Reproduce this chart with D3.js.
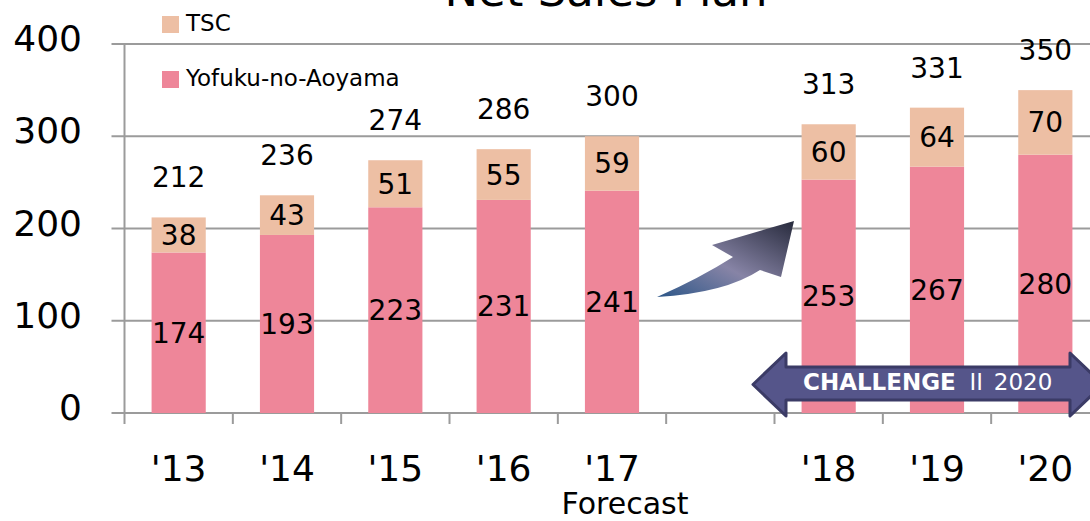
<!DOCTYPE html>
<html>
<head>
<meta charset="utf-8">
<script src="https://cdnjs.cloudflare.com/ajax/libs/d3/7.8.5/d3.min.js"></script>
<style>
    body { margin: 0; background: #fff; }
    text { font-family: Verdana, "DejaVu Sans", sans-serif; fill: #000; }
</style>
</head>
<body>
<div id="chart"></div>
<script>

// data (the empty slot is the gap between actual years and the plan)
let years = ["'13", "'14", "'15", "'16", "'17", "", "'18", "'19", "'20"];
let aoyama = [174, 193, 223, 231, 241, null, 253, 267, 280];
let tsc = [38, 43, 51, 55, 59, null, 60, 64, 70];
let totals = [212, 236, 274, 286, 300, null, 313, 331, 350];
let yTicks = [0, 100, 200, 300, 400];
let seriesNames = ["TSC", "Yofuku-no-Aoyama"];

let pink = "#EE8699";
let peach = "#EDBFA4";
let grid = "#9b9b9b";

let width = 1090, height = 521;
let margin = {top: 44, left: 124.5, bottom: 108};
let plotRight = 1099.5;

let svg = d3.select("#chart").append("svg")
    .attr("width", width)
    .attr("height", height);

let x = d3.scaleBand()
    .domain(d3.range(years.length))
    .range([margin.left, plotRight])
    .paddingInner(0.5)
    .paddingOuter(0.25);

let y = d3.scaleLinear()
    .domain([0, 400])
    .range([height - margin.bottom, margin.top]);

let step = x.step();
let bandStart = i => margin.left + i * step;

// gridlines
svg.selectAll(".grid")
    .data(yTicks)
    .enter()
    .append("line")
    .attr("x1", margin.left - 13)
    .attr("x2", plotRight)
    .attr("y1", d => y(d))
    .attr("y2", d => y(d))
    .attr("stroke", grid)
    .attr("stroke-width", 2);

// y axis line
svg.append("line")
    .attr("x1", margin.left).attr("x2", margin.left)
    .attr("y1", y(400)).attr("y2", y(0))
    .attr("stroke", grid).attr("stroke-width", 2);

// bottom ticks at category borders
svg.selectAll(".xtick")
    .data(d3.range(years.length + 1))
    .enter()
    .append("line")
    .attr("x1", d => bandStart(d))
    .attr("x2", d => bandStart(d))
    .attr("y1", y(0))
    .attr("y2", y(0) + 11)
    .attr("stroke", grid)
    .attr("stroke-width", 2);

// y labels
svg.selectAll(".ylabel")
    .data(yTicks)
    .enter()
    .append("text")
    .attr("x", 82)
    .attr("y", d => y(d) + 7)
    .attr("text-anchor", "end")
    .style("font-size", "36px")
    .text(d => d);

// x labels
svg.selectAll(".xlabel")
    .data(years)
    .enter()
    .append("text")
    .attr("x", (d, i) => x(i) + x.bandwidth() / 2)
    .attr("y", 481)
    .attr("text-anchor", "middle")
    .style("font-size", "36px")
    .text(d => d);

svg.append("text")
    .attr("x", 625)
    .attr("y", 514)
    .attr("text-anchor", "middle")
    .style("font-size", "30px")
    .text("Forecast");

// title (cut off at top like the slide)
svg.append("text")
    .attr("x", 606)
    .attr("y", 6)
    .attr("text-anchor", "middle")
    .style("font-size", "45px")
    .text("Net Sales Plan");

// bars
let rows = years.map((d, i) => ({i: i, a: aoyama[i], t: tsc[i], total: totals[i]}))
    .filter(d => d.a !== null);

svg.selectAll(".barA")
    .data(rows)
    .enter()
    .append("rect")
    .attr("x", d => x(d.i))
    .attr("width", x.bandwidth())
    .attr("y", d => y(d.a))
    .attr("height", d => y(0) - y(d.a))
    .attr("fill", pink);

svg.selectAll(".barT")
    .data(rows)
    .enter()
    .append("rect")
    .attr("x", d => x(d.i))
    .attr("width", x.bandwidth())
    .attr("y", d => y(d.a + d.t))
    .attr("height", d => y(d.a) - y(d.a + d.t))
    .attr("fill", peach);

// value labels
let cx = d => x(d.i) + x.bandwidth() / 2;

svg.selectAll(".labA")
    .data(rows)
    .enter()
    .append("text")
    .attr("x", cx)
    .attr("y", d => (y(0) + y(d.a)) / 2 + 10)
    .attr("text-anchor", "middle")
    .style("font-size", "28px")
    .text(d => d.a);

svg.selectAll(".labT")
    .data(rows)
    .enter()
    .append("text")
    .attr("x", cx)
    .attr("y", d => (y(d.a) + y(d.a + d.t)) / 2 + 10)
    .attr("text-anchor", "middle")
    .style("font-size", "28px")
    .text(d => d.t);

svg.selectAll(".labTotal")
    .data(rows)
    .enter()
    .append("text")
    .attr("x", cx)
    .attr("y", d => y(d.total) - 30)
    .attr("text-anchor", "middle")
    .style("font-size", "28px")
    .text(d => d.total);

// legend
let legendColors = [peach, pink];
let legend = svg.selectAll(".legend")
    .data(seriesNames)
    .enter()
    .append("g")
    .attr("transform", (d, i) => `translate(162, ${16 + i * 55})`);

legend.append("rect")
    .attr("width", 17)
    .attr("height", 17)
    .attr("fill", (d, i) => legendColors[i]);

legend.append("text")
    .attr("x", 24)
    .attr("y", 15)
    .style("font-size", "23px")
    .text(d => d);

// gradient growth arrow
let defs = svg.append("defs");
let grad = defs.append("linearGradient")
    .attr("id", "arrowGrad")
    .attr("x1", "0%").attr("y1", "100%")
    .attr("x2", "100%").attr("y2", "0%");
grad.append("stop").attr("offset", "0%").attr("stop-color", "#2c5688");
grad.append("stop").attr("offset", "45%").attr("stop-color", "#8784a6");
grad.append("stop").attr("offset", "100%").attr("stop-color", "#272a3c");

svg.append("path")
    .attr("d", "M657,297 Q700,278 733,257 L712,245 L794,221 L781,277 L760,270 Q725,293 657,297 Z")
    .attr("fill", "url(#arrowGrad)");

// CHALLENGE II 2020 double arrow
let bx0 = 753, bx1 = 1103, head = 33;
let bTop = 353, bBot = 416, sTop = 367, sBot = 400, bMid = (bTop + bBot) / 2;
let banner = [
    [bx0, bMid], [bx0 + head, bTop], [bx0 + head, sTop], [bx1 - head, sTop], [bx1 - head, bTop],
    [bx1, bMid], [bx1 - head, bBot], [bx1 - head, sBot], [bx0 + head, sBot], [bx0 + head, bBot]
];
svg.append("path")
    .attr("d", d3.line()(banner) + "Z")
    .attr("fill", "#55558A")
    .attr("stroke", "#3b3b66")
    .attr("stroke-width", 3)
    .attr("stroke-linejoin", "round");

let bt = svg.append("text")
    .attr("x", bx0 + 50)
    .attr("y", 390)
    .style("font-size", "23px");
bt.append("tspan").style("font-weight", "bold").style("fill", "#fff").text("CHALLENGE");
bt.append("tspan").attr("dx", 9).style("fill", "#fff")
    .style("font-family", "'Noto Sans CJK JP', sans-serif").text("Ⅱ");
bt.append("tspan").attr("dx", 6).style("fill", "#fff").text("2020");

</script>
</body>
</html>
